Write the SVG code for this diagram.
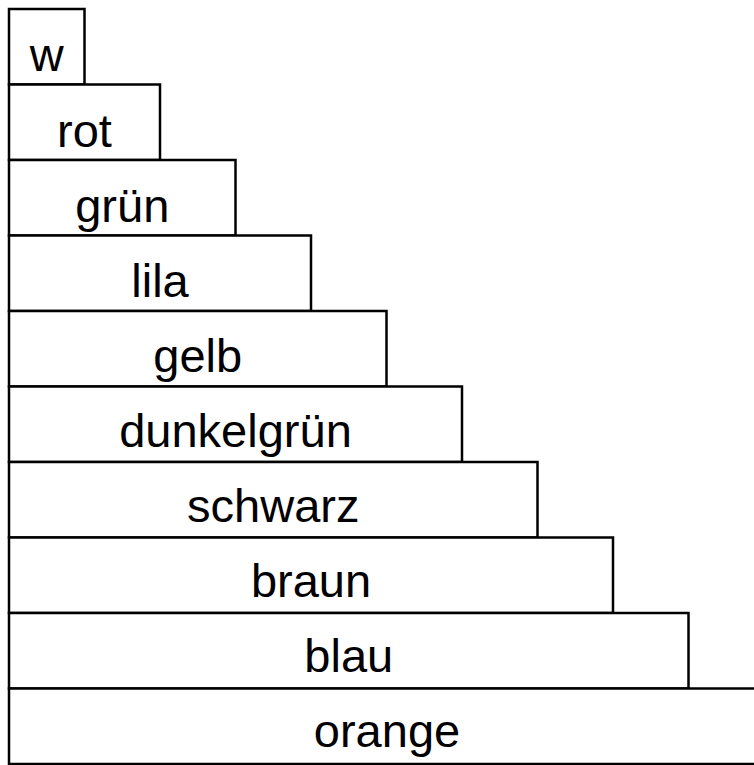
<svg xmlns="http://www.w3.org/2000/svg" width="754" height="765" viewBox="0 0 754 765">
<style>
rect{fill:#fff;stroke:#000;stroke-width:2.5}
text{font-family:"Liberation Sans",Arial,sans-serif;font-size:47px;fill:#000;text-anchor:middle}
</style>
<rect x="0" y="0" width="754" height="765" style="stroke:none"/>
<g id="w"><rect x="9" y="9" width="75.5" height="75.5"/><text x="46.75" y="71">w</text></g>
<g id="rot"><rect x="9" y="84.5" width="151" height="75.5"/><text x="84.5" y="146.5">rot</text></g>
<g id="gruen"><rect x="9" y="160" width="226.5" height="75.5"/><text x="122.25" y="221.5">grün</text></g>
<g id="lila"><rect x="9" y="235.5" width="302" height="75.5"/><text x="160" y="296.6">lila</text></g>
<g id="gelb"><rect x="9" y="311" width="377.5" height="75.5"/><text x="197.75" y="371.7">gelb</text></g>
<g id="dunkelgruen"><rect x="9" y="386.5" width="453" height="75.5"/><text x="235.5" y="446.8">dunkelgrün</text></g>
<g id="schwarz"><rect x="9" y="462" width="528.5" height="75.5"/><text x="273.25" y="521.9">schwarz</text></g>
<g id="braun"><rect x="9" y="537.5" width="604" height="75.5"/><text x="311" y="597">braun</text></g>
<g id="blau"><rect x="9" y="613" width="679.5" height="75.5"/><text x="348.75" y="672.1">blau</text></g>
<g id="orange"><rect x="9" y="688.5" width="756" height="75.5"/><text x="387" y="747.2">orange</text></g>
<g id="connectors"></g>
</svg>
